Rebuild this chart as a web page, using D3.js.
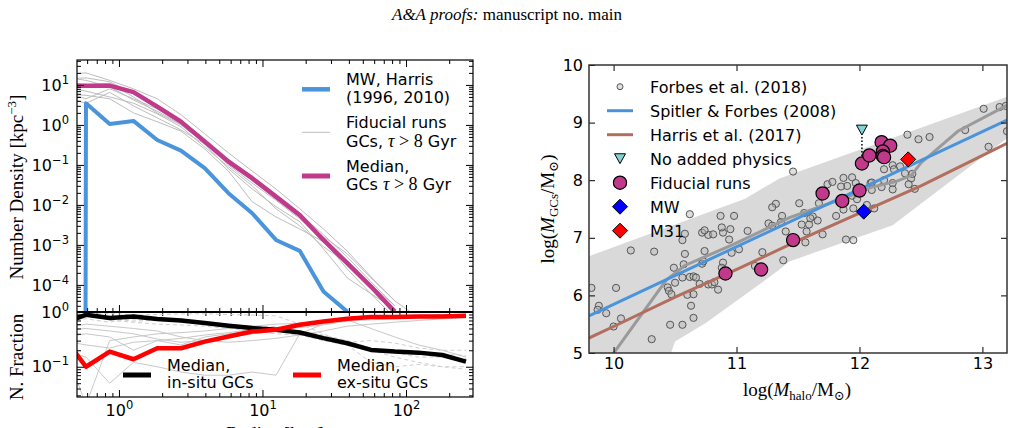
<!DOCTYPE html>
<html>
<head>
<meta charset="utf-8">
<script src="https://cdn.jsdelivr.net/npm/d3@7"></script>
<style>
  body { margin: 0; background: #fff; }
  svg text { font-family: "DejaVu Sans", sans-serif; fill: #000; }
  .serif { font-family: "Liberation Serif", "DejaVu Serif", serif; }
</style>
</head>
<body>
<div id="svganchor"></div>
<script>
/*
------------------------------
DATA: left panels (radial profiles)
------------------------------
*/
// bin centres in kpc, the first one sits left of the axis
let radiusBins = [0.402, 0.589, 0.862, 1.262, 1.847, 2.704, 3.958, 5.794, 8.48, 12.42, 18.18, 26.6, 38.95, 57.0, 83.5, 122.2, 178.9, 261.8];

// number density, kpc^-3 (0 = empty bin)
let mwHarris = [0, 3.49, 1.06, 1.26, 0.42, 0.228, 0.0827, 0.0196, 0.0062, 0.00133, 0.00071, 6.8e-5, 2.15e-5];
let medianOld = [9.5, 9.6, 9.6, 6.6, 2.87, 1.21, 0.382, 0.121, 0.0465, 0.0161, 0.0056, 0.00133, 3.5e-4, 9.1e-5, 2.15e-5];
let fiducialRuns = [
  [18, 20, 13, 8, 4.5, 1.8, 0.6, 0.2, 0.07, 0.025, 0.008, 0.0025, 7e-4, 1.6e-4, 4e-5, 1.5e-5],
  [14, 15, 12, 6, 3.2, 1.3, 0.45, 0.14, 0.05, 0.018, 0.006, 0.0018, 5e-4, 1.2e-4, 3e-5],
  [12, 10, 11, 5, 2.0, 1.0, 0.35, 0.10, 0.035, 0.013, 0.0045, 0.0013, 2.5e-4, 6e-5, 2.5e-5],
  [9, 7, 5, 3.5, 1.9, 0.9, 0.28, 0.09, 0.03, 0.008, 0.003, 9e-4, 3.5e-4, 1e-4, 3e-5],
  [6, 5.5, 4.5, 2.0, 1.2, 0.7, 0.25, 0.07, 0.012, 0.005, 0.0025, 0.0012, 4e-4, 1e-4, 2e-5],
  [5, 3.5, 6.5, 3.0, 1.5, 0.75, 0.33, 0.08, 0.025, 0.009, 0.0038, 8e-4, 1.5e-4, 6e-5, 1.5e-5],
  [7, 4.5, 8, 4.5, 2.5, 1.1, 0.4, 0.13, 0.045, 0.015, 0.005, 0.0016, 6e-4, 1.5e-4, 4e-5],
  [16, 13, 9, 4.2, 2.2, 1.05, 0.36, 0.11, 0.04, 0.014, 0.0048, 0.0014, 4e-4, 8e-5, 1.8e-5]
];

// number fractions
let medianInSitu = [0.62, 0.89, 0.776, 0.83, 0.743, 0.70, 0.628, 0.56, 0.508, 0.473, 0.422, 0.333, 0.269, 0.203, 0.189, 0.181, 0.164, 0.124];
let medianExSitu = [0.38, 0.100, 0.189, 0.137, 0.218, 0.218, 0.288, 0.356, 0.44, 0.473, 0.584, 0.672, 0.753, 0.809, 0.809, 0.83, 0.83, 0.855];
let runsExSitu = [
  [0.3, 0.02, 0.3, 0.35, 0.4, 0.42, 0.45, 0.5, 0.55, 0.6, 0.62, 0.7, 0.75, 0.8, 0.82, 0.85, 0.85, 0.86],
  [0.3, 0.25, 0.22, 0.28, 0.3, 0.25, 0.35, 0.4, 0.45, 0.5, 0.55, 0.62, 0.7, 0.78, 0.8, 0.82, 0.84, 0.86],
  [0.35, 0.4, 0.35, 0.2, 0.3, 0.33, 0.38, 0.42, 0.48, 0.47, 0.52, 0.58, 0.68, 0.72, 0.75, 0.78, 0.8, 0.8],
  [0.2, 0.15, 0.05, 0.12, 0.1, 0.08, 0.07, 0.07, 0.08, 0.07, 0.4, 0.6, 0.75, 0.8, 0.85, 0.88, 0.9, 0.9],
  [0.45, 0.5, 0.45, 0.4, 0.32, 0.28, 0.3, 0.35, 0.4, 0.45, 0.6, 0.7, 0.72, 0.5, 0.35, 0.25, 0.2, 0.15],
  [0.5, 0.6, 0.55, 0.5, 0.45, 0.35, 0.3, 0.28, 0.3, 0.33, 0.38, 0.45, 0.55, 0.6, 0.65, 0.7, 0.75, 0.78]
];
let runsInSitu = [
  [0.9, 0.95, 0.7, 0.65, 0.6, 0.58, 0.55, 0.5, 0.45, 0.4, 0.38, 0.3, 0.25, 0.2, 0.18, 0.15, 0.15, 0.14],
  [0.8, 0.85, 0.78, 0.72, 0.7, 0.75, 0.65, 0.6, 0.55, 0.53, 0.45, 0.38, 0.3, 0.22, 0.2, 0.18, 0.17, 0.16],
  [0.7, 0.75, 0.65, 0.8, 0.7, 0.67, 0.62, 0.58, 0.52, 0.5, 0.42, 0.3, 0.25, 0.12, 0.1, 0.11, 0.1, 0.09],
  [0.95, 0.9, 0.95, 0.88, 0.9, 0.92, 0.93, 0.9, 0.88, 0.85, 0.6, 0.4, 0.25, 0.2, 0.15, 0.12, 0.1, 0.1],
  [0.8, 0.85, 0.75, 0.68, 0.7, 0.72, 0.65, 0.6, 0.5, 0.55, 0.4, 0.32, 0.28, 0.3, 0.27, 0.22, 0.2, 0.2]
];

/*
------------------------------
DATA: right panel (log masses)
------------------------------
*/
let forbesLogHalo = [
  9.82, 9.88, 9.87, 9.94, 10.02, 10.00, 10.06, 10.14, 10.33, 10.31,
  10.46, 10.56, 10.49, 10.44, 10.45, 10.47, 10.50, 10.56, 10.58, 10.58,
  10.57, 10.56, 10.62, 10.65, 10.67, 10.60, 10.63, 10.65, 10.72, 10.74,
  10.72, 10.70, 10.77, 10.80, 10.82, 10.85, 10.89, 10.88, 10.89, 10.94,
  10.96, 11.02, 11.15, 11.21, 11.38, 11.56, 11.70, 11.89, 11.09, 10.77,
  10.81, 10.95, 11.40, 10.62, 10.87, 10.98, 10.74, 10.88, 11.26, 11.29,
  11.32, 11.29, 11.37, 11.46, 11.51, 11.55, 11.53, 11.59, 11.62, 11.66,
  11.67, 11.74, 11.78, 11.87, 11.94, 11.90, 11.85, 11.97, 12.01, 11.94,
  11.98, 12.06, 11.95, 11.87, 11.81, 11.95, 12.09, 12.20, 12.20, 12.18,
  12.27, 12.27, 12.33, 12.37, 12.39, 12.48, 12.57, 12.86, 13.01, 13.14,
  13.19, 13.05, 13.20, 12.42, 12.43, 12.40, 12.45, 12.12, 12.10, 12.27,
  12.28, 12.10, 11.36, 10.65, 10.73, 11.57, 11.60
];
let forbesLogGC = [
  6.13, 5.82, 5.75, 5.69, 6.13, 5.46, 5.60, 6.78, 6.76, 5.24,
  5.49, 5.49, 6.48, 6.14, 6.08, 6.02, 6.22, 6.96, 7.07, 6.72,
  6.54, 6.31, 6.32, 6.33, 6.31, 6.01, 5.82, 5.61, 7.09, 6.77,
  6.55, 6.20, 6.19, 6.19, 6.23, 6.10, 6.57, 6.48, 7.09, 6.97,
  6.74, 6.80, 6.51, 6.75, 6.61, 6.92, 7.06, 6.97, 7.12, 7.05,
  7.06, 7.15, 7.11, 7.41, 7.38, 7.38, 7.13, 7.18, 7.25, 7.21,
  7.59, 7.53, 7.38, 8.15, 7.60, 7.43, 7.23, 7.23, 7.37, 7.30,
  7.60, 7.93, 7.97, 8.04, 8.05, 7.90, 7.89, 7.95, 7.86, 7.73,
  7.67, 7.57, 7.51, 7.49, 7.38, 6.96, 7.95, 8.19, 8.00, 7.88,
  7.95, 8.26, 8.24, 8.12, 8.79, 8.71, 8.75, 8.87, 9.24, 9.27,
  9.29, 8.58, 8.85, 8.03, 8.11, 7.93, 7.85, 7.51, 7.83, 7.84,
  8.19, 7.96, 7.27, 6.02, 6.59, 7.11, 7.34
];

// shaded scatter band (upper edge left->right, lower edge right->left)
let bandLogHalo = [9.8, 11.07, 11.35, 12.41, 13.2, 13.2, 12.27, 11.95, 11.43, 11.32, 10.75, 10.5, 10.45, 9.8];
let bandLogGC = [6.68, 7.68, 8.03, 8.84, 9.45, 8.73, 7.22, 6.98, 6.59, 6.40, 5.52, 5.2, 4.9, 4.9];

// running median of the observations
let medianLogHalo = [9.9, 10.43, 10.58, 10.97, 11.43, 11.84, 12.1, 12.3, 12.42, 12.5, 12.8, 13.2];
let medianLogGC = [4.7, 6.27, 6.52, 6.88, 7.35, 7.66, 7.88, 7.98, 8.08, 8.3, 8.85, 9.3];

let spitlerLogHalo = [9.8, 13.2];
let spitlerLogGC = [5.645, 9.045];
let harrisLogHalo = [9.8, 10.0, 10.5, 11.02, 11.5, 12.0, 12.5, 13.2];
let harrisLogGC = [5.26, 5.46, 5.97, 6.47, 6.95, 7.43, 7.9, 8.64];

let fiducialLogHalo = [10.91, 11.20, 11.46, 11.70, 11.86, 12.00, 12.02, 12.08, 12.18, 12.25, 12.19, 12.19, 12.20];
let fiducialLogGC = [6.38, 6.45, 6.96, 7.77, 7.64, 7.82, 8.29, 8.43, 8.66, 8.60, 8.50, 8.42, 8.40];
let noPhysics = [12.02, 8.87];
let noPhysicsLink = [8.75, 8.36];
let mwPoint = [12.035, 7.454];
let m31Point = [12.396, 8.362];

/*
------------------------------
METHOD: canvas and frames
------------------------------
*/
let width = 1014, height = 428;
let L = {x0: 77, x1: 473, top: 60, mid: 312, bot: 397};
let R = {x0: 589, x1: 1007, top: 65, bot: 353};

let col = {
  blue: "#4a94dc", magenta: "#c0398b", grey: "#bdbdbd", brown: "#b26e5e",
  band: "#d9d9d9", cyan: "#80d3d3"
};

let svg = d3.select("#svganchor").append("svg")
    .attr("width", width)
    .attr("height", height)
    .style("background", "#fff");

let defs = svg.append("defs");
function addClip(id, x, y, w, h) {
  defs.append("clipPath").attr("id", id)
    .append("rect").attr("x", x).attr("y", y).attr("width", w).attr("height", h);
}
addClip("clipTop", L.x0, L.top, L.x1 - L.x0, L.mid - L.top);
addClip("clipBot", L.x0, L.mid, L.x1 - L.x0, L.bot - L.mid);
addClip("clipRight", R.x0, R.top, R.x1 - R.x0, R.bot - R.top);

// page header
let head = svg.append("text").attr("class", "serif")
    .attr("x", 507).attr("y", 20).attr("text-anchor", "middle").attr("font-size", 17);
head.append("tspan").attr("font-style", "italic").text("A&A proofs:");
head.append("tspan").text(" manuscript no. main");

/*
------------------------------
METHOD: scales
------------------------------
*/
let xR = d3.scaleLog().domain([0.51, 293]).range([L.x0, L.x1]);
let yDen = d3.scaleLog().domain([2.1e-5, 42]).range([L.mid, L.top]);
let yFrac = d3.scaleLog().domain([0.028, 1]).range([L.bot, L.mid]);
let xH = d3.scaleLinear().domain([9.8, 13.2]).range([R.x0, R.x1]);
let yG = d3.scaleLinear().domain([5, 10]).range([R.bot, R.top]);

function minorLog(lo, hi) {
  let out = [];
  for (let e = Math.floor(Math.log10(lo)); e <= Math.ceil(Math.log10(hi)); e++) {
    for (let m = 2; m <= 9; m++) {
      let v = m * Math.pow(10, e);
      if (v > lo && v < hi) out.push(v);
    }
  }
  return out;
}

// turn "10" labels into 10^n
function powerLabels(g) {
  g.selectAll(".tick text").each(function(d) {
    let e = Math.round(Math.log10(d));
    let t = d3.select(this).text("10");
    t.append("tspan").attr("dy", -7).attr("font-size", 11.5)
      .text(e < 0 ? "\u2212" + (-e) : e);
  });
}

function styleAxis(g) {
  g.attr("font-family", "DejaVu Sans").attr("font-size", 16);
  g.select(".domain").remove();
  g.selectAll(".tick line").attr("stroke", "#000").attr("stroke-width", 1);
}

/*
------------------------------
METHOD: left, top panel (number density)
------------------------------
*/
let topG = svg.append("g").attr("clip-path", "url(#clipTop)");
let denLine = d3.line()
    .x((d, i) => xR(radiusBins[i]))
    .y(d => yDen(Math.max(d, 1e-300)));

fiducialRuns.forEach(run => {
  topG.append("path").datum(run).attr("d", denLine)
    .attr("fill", "none").attr("stroke", col.grey).attr("stroke-width", 1);
});
topG.append("path").datum(mwHarris).attr("d", denLine)
    .attr("fill", "none").attr("stroke", col.blue).attr("stroke-width", 4).attr("stroke-linejoin", "round");
topG.append("path").datum(medianOld).attr("d", denLine)
    .attr("fill", "none").attr("stroke", col.magenta).attr("stroke-width", 4.5).attr("stroke-linejoin", "round");

let denMajor = [1e-4, 1e-3, 1e-2, 1e-1, 1, 10];
svg.append("g").attr("transform", `translate(${L.x0},0)`)
    .call(d3.axisLeft(yDen).tickValues(denMajor).tickSize(-7).tickPadding(8).tickFormat(() => "10"))
    .call(styleAxis).call(powerLabels);
svg.append("g").attr("transform", `translate(${L.x0},0)`)
    .call(d3.axisLeft(yDen).tickValues(minorLog(2.1e-5, 42)).tickSize(-4).tickFormat(""))
    .call(styleAxis);
svg.append("g").attr("transform", `translate(${L.x1},0)`)
    .call(d3.axisRight(yDen).tickValues(denMajor).tickSize(-7).tickFormat(""))
    .call(styleAxis);
svg.append("g").attr("transform", `translate(${L.x1},0)`)
    .call(d3.axisRight(yDen).tickValues(minorLog(2.1e-5, 42)).tickSize(-4).tickFormat(""))
    .call(styleAxis);

let rMajor = [1, 10, 100];
let rMinor = minorLog(0.51, 293);
[[d3.axisTop, L.top], [d3.axisBottom, L.mid], [d3.axisTop, L.mid], [d3.axisBottom, L.bot]].forEach(([ax, y]) => {
  svg.append("g").attr("transform", `translate(0,${y})`)
    .call(ax(xR).tickValues(rMajor).tickSize(-7).tickFormat(""))
    .call(styleAxis);
  svg.append("g").attr("transform", `translate(0,${y})`)
    .call(ax(xR).tickValues(rMinor).tickSize(-4).tickFormat(""))
    .call(styleAxis);
});
// x labels under the bottom panel
svg.append("g").attr("transform", `translate(0,${L.bot})`)
    .call(d3.axisBottom(xR).tickValues(rMajor).tickSize(0).tickPadding(8).tickFormat(() => "10"))
    .call(styleAxis).call(powerLabels);

// legend, top panel
let legTop = [
  {y: 89.3, color: col.blue, w: 4.5, lines: ["MW, Harris", "(1996, 2010)"], base: [85, 103.3]},
  {y: 132.3, color: col.grey, w: 1, lines: ["Fiducial runs", "tau"], base: [128.3, 147.3]},
  {y: 176, color: col.magenta, w: 5, lines: ["Median,", "tau2"], base: [171.7, 190]}
];
legTop.forEach(d => {
  svg.append("line").attr("x1", 302).attr("x2", 330).attr("y1", d.y).attr("y2", d.y)
    .attr("stroke", d.color).attr("stroke-width", d.w);
  d.lines.forEach((s, i) => {
    let t = svg.append("text").attr("x", 346).attr("y", d.base[i]).attr("font-size", 16);
    if (s === "tau" || s === "tau2") {
      t.append("tspan").text(s === "tau" ? "GCs, " : "GCs ");
      t.append("tspan").attr("class", "serif").attr("font-style", "italic").attr("font-size", 18).text("\u03c4");
      t.append("tspan").attr("class", "serif").attr("font-size", 18).text(" > 8");
      t.append("tspan").text(" Gyr");
    } else {
      t.text(s);
    }
  });
});

/*
------------------------------
METHOD: left, bottom panel (fractions)
------------------------------
*/
let botG = svg.append("g").attr("clip-path", "url(#clipBot)");
let fracLine = d3.line()
    .x((d, i) => xR(radiusBins[i]))
    .y(d => yFrac(Math.max(d, 1e-300)));

runsInSitu.forEach(run => {
  botG.append("path").datum(run).attr("d", fracLine)
    .attr("fill", "none").attr("stroke", "#cfcfcf").attr("stroke-width", 1).attr("stroke-dasharray", "4,3");
});
runsExSitu.forEach(run => {
  botG.append("path").datum(run).attr("d", fracLine)
    .attr("fill", "none").attr("stroke", "#c8c8c8").attr("stroke-width", 1);
});
botG.append("path").datum(medianInSitu).attr("d", fracLine)
    .attr("fill", "none").attr("stroke", "#000").attr("stroke-width", 4.5).attr("stroke-linejoin", "round");
botG.append("path").datum(medianExSitu).attr("d", fracLine)
    .attr("fill", "none").attr("stroke", "#ff0000").attr("stroke-width", 4.5).attr("stroke-linejoin", "round");

svg.append("g").attr("transform", `translate(${L.x0},0)`)
    .call(d3.axisLeft(yFrac).tickValues([0.1, 1]).tickSize(-7).tickPadding(8).tickFormat(() => "10"))
    .call(styleAxis).call(powerLabels);
svg.append("g").attr("transform", `translate(${L.x0},0)`)
    .call(d3.axisLeft(yFrac).tickValues(minorLog(0.028, 1)).tickSize(-4).tickFormat(""))
    .call(styleAxis);
svg.append("g").attr("transform", `translate(${L.x1},0)`)
    .call(d3.axisRight(yFrac).tickValues([0.1]).tickSize(-7).tickFormat(""))
    .call(styleAxis);
svg.append("g").attr("transform", `translate(${L.x1},0)`)
    .call(d3.axisRight(yFrac).tickValues(minorLog(0.028, 1)).tickSize(-4).tickFormat(""))
    .call(styleAxis);

// legend, bottom panel
[{x: 123, tx: 167, color: "#000", s: "in-situ GCs"}, {x: 293, tx: 337, color: "#ff0000", s: "ex-situ GCs"}].forEach(d => {
  svg.append("line").attr("x1", d.x).attr("x2", d.x + 28).attr("y1", 375).attr("y2", 375)
    .attr("stroke", d.color).attr("stroke-width", 5);
  svg.append("text").attr("x", d.tx).attr("y", 371).attr("font-size", 16).text("Median,");
  svg.append("text").attr("x", d.tx).attr("y", 388.3).attr("font-size", 16).text(d.s);
});

// frames
svg.append("rect").attr("x", L.x0).attr("y", L.top).attr("width", L.x1 - L.x0).attr("height", L.bot - L.top)
    .attr("fill", "none").attr("stroke", "#000").attr("stroke-width", 1.2);
svg.append("line").attr("x1", L.x0).attr("x2", L.x1).attr("y1", L.mid).attr("y2", L.mid)
    .attr("stroke", "#000").attr("stroke-width", 2);

// axis titles
let yl1 = svg.append("text").attr("class", "serif").attr("font-size", 19)
    .attr("text-anchor", "middle").attr("transform", "translate(23,187) rotate(-90)");
yl1.append("tspan").text("Number Density [kpc");
yl1.append("tspan").attr("dy", -7).attr("font-size", 13).text("\u22123");
yl1.append("tspan").attr("dy", 7).text("]");
svg.append("text").attr("class", "serif").attr("font-size", 19)
    .attr("text-anchor", "middle").attr("transform", "translate(23,357) rotate(-90)")
    .text("N. Fraction");
svg.append("text").attr("class", "serif").attr("font-size", 19)
    .attr("text-anchor", "middle").attr("x", 275).attr("y", 440)
    .text("Radius [kpc]");

/*
------------------------------
METHOD: right panel (GC mass vs halo mass)
------------------------------
*/
let rg = svg.append("g").attr("clip-path", "url(#clipRight)");

rg.append("path")
    .datum(bandLogHalo.map((h, i) => [h, bandLogGC[i]]))
    .attr("d", d3.line().x(d => xH(d[0])).y(d => yG(d[1])))
    .attr("fill", col.band).attr("stroke", "none");

rg.selectAll(".forbes")
    .data(forbesLogHalo.map((h, i) => [h, forbesLogGC[i]]))
    .enter().append("circle")
    .attr("class", "forbes")
    .attr("cx", d => xH(d[0])).attr("cy", d => yG(d[1])).attr("r", 3.6)
    .attr("fill", "#b8b8b8").attr("fill-opacity", 0.45)
    .attr("stroke", "#555").attr("stroke-width", 1);

let massLine = d3.line().x(d => xH(d[0])).y(d => yG(d[1]));
rg.append("path").datum(medianLogHalo.map((h, i) => [h, medianLogGC[i]]))
    .attr("d", massLine).attr("fill", "none").attr("stroke", "#9a9a9a").attr("stroke-width", 3);
rg.append("path").datum(spitlerLogHalo.map((h, i) => [h, spitlerLogGC[i]]))
    .attr("d", massLine).attr("fill", "none").attr("stroke", col.blue).attr("stroke-width", 3);
rg.append("path").datum(harrisLogHalo.map((h, i) => [h, harrisLogGC[i]]))
    .attr("d", massLine).attr("fill", "none").attr("stroke", col.brown).attr("stroke-width", 3);

rg.append("line")
    .attr("x1", xH(noPhysics[0])).attr("x2", xH(noPhysics[0]))
    .attr("y1", yG(noPhysicsLink[0])).attr("y2", yG(noPhysicsLink[1]))
    .attr("stroke", "#000").attr("stroke-width", 1.5).attr("stroke-dasharray", "1.5,2");

function triangleDown(x, y, s) {
  return `M${x - s},${y - s * 0.9}L${x + s},${y - s * 0.9}L${x},${y + s * 0.9}Z`;
}
function diamond(x, y, s) {
  return `M${x},${y - s}L${x + s},${y}L${x},${y + s}L${x - s},${y}Z`;
}

rg.append("path").attr("d", triangleDown(xH(noPhysics[0]), yG(noPhysics[1]), 5.5))
    .attr("fill", col.cyan).attr("stroke", "#000").attr("stroke-width", 1);

rg.selectAll(".fid")
    .data(fiducialLogHalo.map((h, i) => [h, fiducialLogGC[i]]))
    .enter().append("circle")
    .attr("class", "fid")
    .attr("cx", d => xH(d[0])).attr("cy", d => yG(d[1])).attr("r", 6.6)
    .attr("fill", col.magenta).attr("stroke", "#000").attr("stroke-width", 1.2);

rg.append("path").attr("d", diamond(xH(mwPoint[0]), yG(mwPoint[1]), 7.5))
    .attr("fill", "#0000ff").attr("stroke", "#000").attr("stroke-width", 1);
rg.append("path").attr("d", diamond(xH(m31Point[0]), yG(m31Point[1]), 7.5))
    .attr("fill", "#ff0000").attr("stroke", "#000").attr("stroke-width", 1);

// axes
svg.append("g").attr("transform", `translate(${R.x0},0)`)
    .call(d3.axisLeft(yG).tickValues([5, 6, 7, 8, 9, 10]).tickSize(-6).tickPadding(6).tickFormat(d3.format("d")))
    .call(styleAxis);
svg.append("g").attr("transform", `translate(${R.x1},0)`)
    .call(d3.axisRight(yG).tickValues([6, 7, 8, 9]).tickSize(-6).tickFormat(""))
    .call(styleAxis);
svg.append("g").attr("transform", `translate(0,${R.bot})`)
    .call(d3.axisBottom(xH).tickValues([10, 11, 12, 13]).tickSize(-6).tickPadding(5).tickFormat(d3.format("d")))
    .call(styleAxis);
svg.append("g").attr("transform", `translate(0,${R.top})`)
    .call(d3.axisTop(xH).tickValues([10, 11, 12, 13]).tickSize(-6).tickFormat(""))
    .call(styleAxis);
svg.append("rect").attr("x", R.x0).attr("y", R.top).attr("width", R.x1 - R.x0).attr("height", R.bot - R.top)
    .attr("fill", "none").attr("stroke", "#333").attr("stroke-width", 1.5);

// legend
let legR = [
  {label: "Forbes et al. (2018)", kind: "open"},
  {label: "Spitler & Forbes (2008)", kind: "line", color: col.blue},
  {label: "Harris et al. (2017)", kind: "line", color: col.brown},
  {label: "No added physics", kind: "tri"},
  {label: "Fiducial runs", kind: "fid"},
  {label: "MW", kind: "dia", color: "#0000ff"},
  {label: "M31", kind: "dia", color: "#ff0000"}
];
legR.forEach((d, i) => {
  let y = 86.7 + i * 24, x = 620;
  if (d.kind === "open") {
    svg.append("circle").attr("cx", x).attr("cy", y).attr("r", 3)
      .attr("fill", "#b8b8b8").attr("fill-opacity", 0.45).attr("stroke", "#555");
  } else if (d.kind === "line") {
    svg.append("line").attr("x1", 607).attr("x2", 633).attr("y1", y).attr("y2", y)
      .attr("stroke", d.color).attr("stroke-width", 3);
  } else if (d.kind === "tri") {
    svg.append("path").attr("d", triangleDown(x, y, 5.5)).attr("fill", col.cyan).attr("stroke", "#000");
  } else if (d.kind === "fid") {
    svg.append("circle").attr("cx", x).attr("cy", y).attr("r", 6.6)
      .attr("fill", col.magenta).attr("stroke", "#000").attr("stroke-width", 1.2);
  } else {
    svg.append("path").attr("d", diamond(x, y, 7.5)).attr("fill", d.color).attr("stroke", "#000");
  }
  svg.append("text").attr("x", 650).attr("y", y + 6).attr("font-size", 16).text(d.label);
});

// axis titles
let yl2 = svg.append("text").attr("class", "serif").attr("font-size", 19)
    .attr("text-anchor", "middle").attr("transform", "translate(554,209) rotate(-90)");
yl2.append("tspan").text("log(");
yl2.append("tspan").attr("font-style", "italic").text("M");
yl2.append("tspan").attr("dy", 4).attr("font-size", 13).text("GCs");
yl2.append("tspan").attr("dy", -4).text("/M");
yl2.append("tspan").attr("dy", 4).attr("font-size", 13).text("\u2299");
yl2.append("tspan").attr("dy", -4).text(")");

let xl2 = svg.append("text").attr("class", "serif").attr("font-size", 19)
    .attr("text-anchor", "middle").attr("x", 797).attr("y", 396);
xl2.append("tspan").text("log(");
xl2.append("tspan").attr("font-style", "italic").text("M");
xl2.append("tspan").attr("dy", 4).attr("font-size", 13).text("halo");
xl2.append("tspan").attr("dy", -4).text("/M");
xl2.append("tspan").attr("dy", 4).attr("font-size", 13).text("\u2299");
xl2.append("tspan").attr("dy", -4).text(")");
</script>
</body>
</html>
